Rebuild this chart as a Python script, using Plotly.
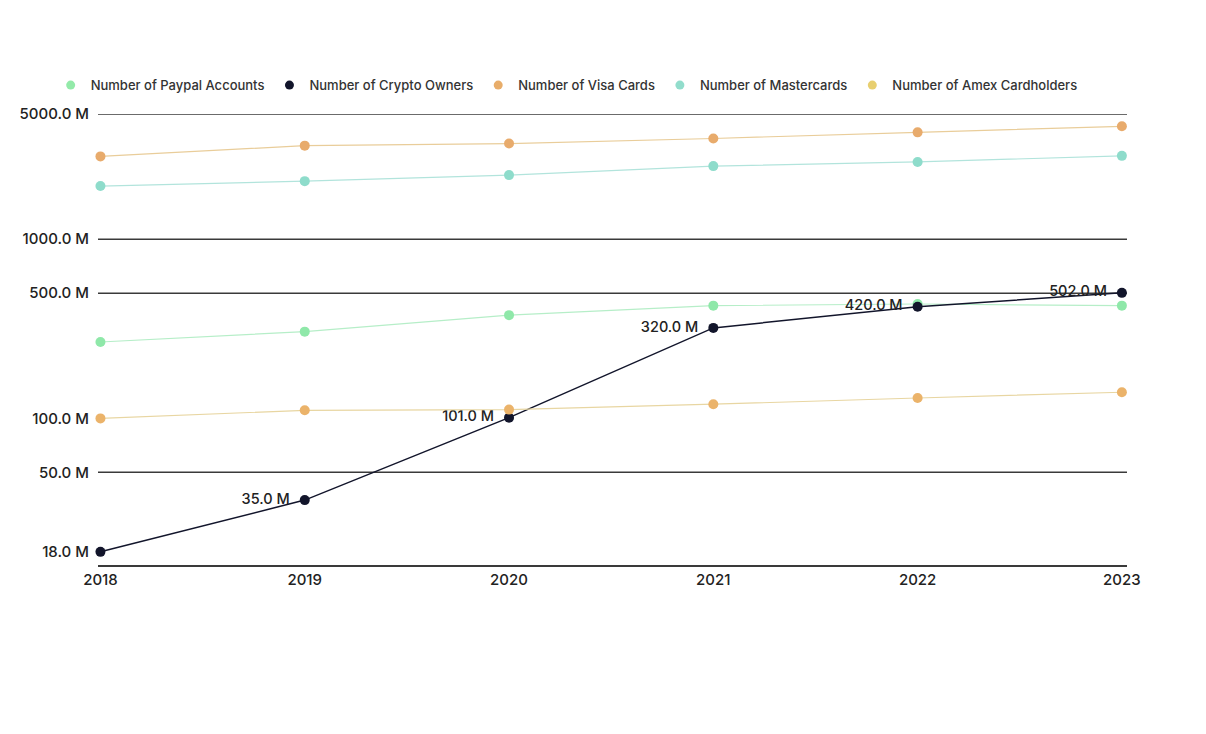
import plotly.graph_objects as go
import math

years = [2018, 2019, 2020, 2021, 2022, 2023]
paypal = [267, 305, 377, 426, 435, 426]
crypto = [18, 35, 101, 320, 420, 502]
visa = [2900, 3330, 3420, 3650, 3950, 4270]
mastercard = [1980, 2110, 2280, 2560, 2700, 2920]
amex = [100, 111, 112, 120, 130, 140]

tick_vals = [18, 50, 100, 500, 1000, 5000]
tick_text = ["18.0 M", "50.0 M", "100.0 M", "500.0 M", "1000.0 M", "5000.0 M"]
grid_vals = [50, 500, 1000, 5000]

FONT = "Inter, Noto Sans, sans-serif"

fig = go.Figure()

def add(name, y, marker_color, line_color, legend_color, width=1.2, text=None):
    fig.add_trace(go.Scatter(
        x=years, y=y, name=name, showlegend=False, legendgroup=name,
        mode="lines+markers" + ("+text" if text else ""),
        line=dict(color=line_color, width=width),
        marker=dict(color=marker_color, size=10),
        text=text, textposition="middle left",
        textfont=dict(family=FONT, size=14.5, color="#222222", weight=500),
        cliponaxis=False,
    ))
    # legend entry: marker only
    fig.add_trace(go.Scatter(
        x=[None], y=[None], name=name, legendgroup=name,
        mode="markers", marker=dict(color=legend_color, size=9),
        showlegend=True,
    ))

add("Number of Paypal Accounts", paypal, "#8fe8a9", "#b6eec8", "#93eaa9")
crypto_labels = [""] + [f"{v:.1f} M  " for v in crypto[1:]]
add("Number of Crypto Owners", crypto, "#12152b", "#12152b", "#12152b", 1.5, crypto_labels)
add("Number of Visa Cards", visa, "#e8ab6c", "#e9cd9a", "#e8ad6a")
add("Number of Mastercards", mastercard, "#8edccb", "#b2e4dc", "#92ddcc")
add("Number of Amex Cardholders", amex, "#ebb36a", "#e8d6a2", "#e8cf70")

for g in grid_vals:
    fig.add_shape(type="line", xref="paper", x0=0, x1=1, yref="y", y0=g, y1=g,
                  line=dict(color="#3a3a3a", width=1.5), layer="below")

fig.update_layout(
    width=1206, height=734,
    margin=dict(l=84, r=87, t=106, b=177),
    paper_bgcolor="white", plot_bgcolor="white",
    font=dict(family=FONT, size=15, color="#222222"),
    showlegend=True,
    legend=dict(orientation="h", x=-0.046, xanchor="left", y=1.064, yanchor="middle",
                font=dict(family=FONT, size=13, color="#333333", weight=500),
                itemwidth=30, tracegroupgap=0, bgcolor="rgba(0,0,0,0)"),
)
fig.update_xaxes(
    range=[2018 - 0.012, 2023 + 0.025],
    tickvals=years, ticktext=[str(y) for y in years],
    showgrid=False, zeroline=False,
    showline=True, linecolor="#3a3a3a", linewidth=1.5,
    ticks="", tickfont=dict(family=FONT, size=15, color="#222222", weight=500),
)
fig.update_yaxes(
    type="log",
    range=[math.log10(15.2), math.log10(5000)],
    tickvals=tick_vals, ticktext=tick_text,
    showgrid=False, zeroline=False, showline=False,
    ticks="", ticklabelstandoff=8,
    tickfont=dict(family=FONT, size=15, color="#222222", weight=500),
)

fig.write_html("out.html")
